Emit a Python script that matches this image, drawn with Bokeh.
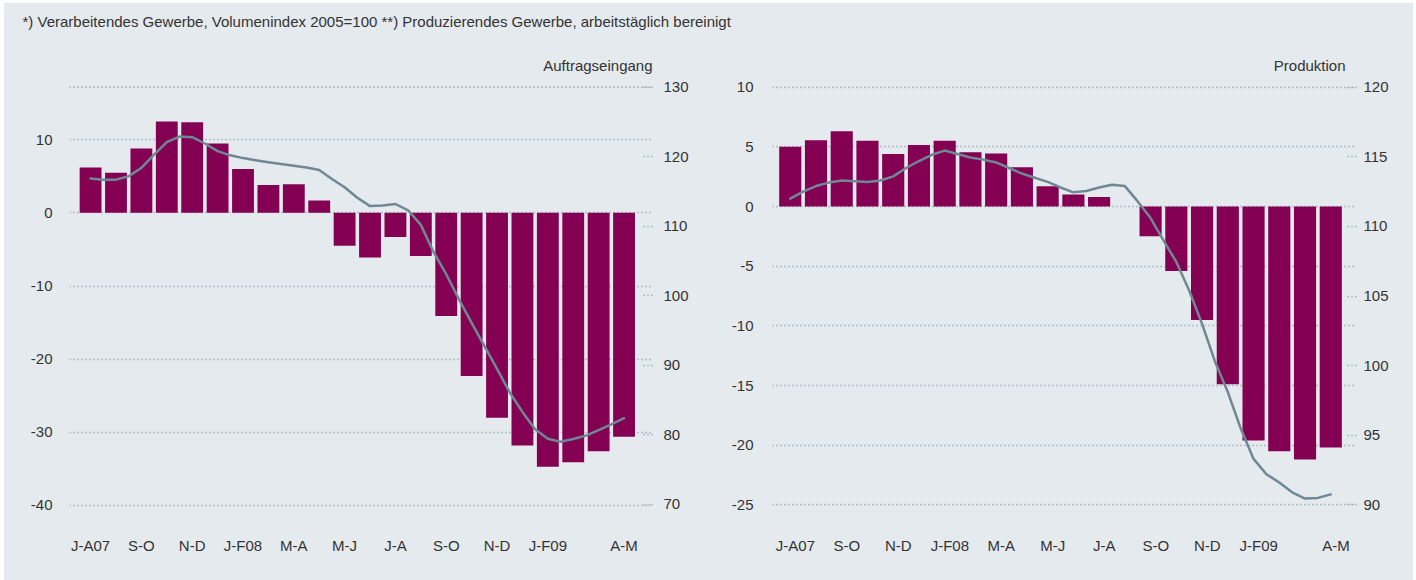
from bokeh.plotting import figure
from bokeh.models import Range1d, LinearAxis, FixedTicker, Span, Spacer
from bokeh.layouts import column, row
from bokeh.embed import file_html
from bokeh.resources import INLINE

# ---------------- data ----------------
months = list(range(22))
line_months = [i / 2 for i in range(43)]
tick_idx = [0, 2, 4, 6, 8, 10, 12, 14, 16, 18, 21]
tick_labels = ["J-A07", "S-O", "N-D", "J-F08", "M-A", "M-J", "J-A", "S-O", "N-D", "J-F09", "A-M"]

# Auftragseingang: change vs. previous year (bars, left axis), volume index (line, right axis)
orders_change = [6.2, 5.5, 8.8, 12.5, 12.4, 9.5, 6.0, 3.8, 3.9, 1.7,
                 -4.5, -6.1, -3.3, -5.9, -14.1, -22.3, -28.0, -31.8, -34.7, -34.1, -32.6, -30.6]
orders_index = [116.85, 116.7, 116.7, 117.2, 118.4, 120.3, 122.1, 122.9, 122.8, 121.9,
                120.8, 120.2, 119.8, 119.5, 119.2, 118.95, 118.7, 118.45, 118.1, 116.8,
                115.6, 114.1, 112.9, 113.0, 113.2, 112.3, 110.2, 106.3, 103.1, 99.5,
                96.1, 92.8, 89.5, 86.1, 83.3, 80.8, 79.45, 79.0, 79.4, 79.9,
                80.7, 81.5, 82.4]

# Produktion
prod_change = [5.0, 5.56, 6.3, 5.5, 4.4, 5.15, 5.5, 4.55, 4.45, 3.3, 1.7, 1.0, 0.8, 0.0,
               -2.5, -5.4, -9.5, -14.9, -19.6, -20.5, -21.2, -20.2]
prod_index = [112.0, 112.5, 112.9, 113.15, 113.3, 113.25, 113.2, 113.3, 113.6, 114.2,
              114.7, 115.15, 115.45, 115.2, 114.95, 114.8, 114.6, 114.2, 113.8, 113.5,
              113.2, 112.8, 112.45, 112.55, 112.8, 113.0, 112.9, 111.8, 110.6, 109.0,
              107.45, 105.4, 103.0, 100.3, 98.1, 95.5, 93.3, 92.2, 91.6, 90.9,
              90.45, 90.5, 90.75]

orders_left_ticks = [-40, -30, -20, -10, 0, 10]
orders_right_ticks = [70, 80, 90, 100, 110, 120, 130]
prod_left_ticks = [-25, -20, -15, -10, -5, 0, 5, 10]
prod_right_ticks = [90, 95, 100, 105, 110, 115, 120]

header_text = "*) Verarbeitendes Gewerbe, Volumenindex 2005=100 **) Produzierendes Gewerbe, arbeitstäglich bereinigt"

# ---------------- style ----------------
BG = "#e5eaee"
BAR = "#840053"
LINE = "#6f8894"
GRID = "#7a95a1"
TXT = "#333333"
FONT = "Liberation Sans"


def style_axis(ax, standoff):
    ax.axis_line_color = None
    ax.major_tick_line_color = None
    ax.minor_tick_line_color = None
    ax.major_label_text_font = FONT
    ax.major_label_text_font_size = "15px"
    ax.major_label_text_color = TXT
    ax.major_label_standoff = standoff


def make_chart(title, width, mb_left, mb_right, xr, yr, yr2, lticks, rticks, changes, index,
               right_standoff, left_standoff, tick_shift, title_offset, top_span=None):
    p = figure(width=width, height=530, x_range=Range1d(*xr), y_range=Range1d(*yr),
               toolbar_location=None, output_backend="svg",
               min_border_left=mb_left, min_border_right=mb_right,
               min_border_top=26, min_border_bottom=68)
    p.extra_y_ranges = {"right": Range1d(*yr2)}
    p.background_fill_color = None
    p.border_fill_color = None
    p.outline_line_color = None

    p.title.text = title
    p.title.align = "right"
    p.title.offset = title_offset
    p.title.text_font = FONT
    p.title.text_font_size = "15px"
    p.title.text_font_style = "normal"
    p.title.text_color = TXT
    p.title.standoff = 8

    lt = FixedTicker(ticks=lticks)
    p.yaxis.ticker = lt
    p.ygrid.ticker = lt
    p.yaxis.major_label_overrides = {t: str(t) for t in lticks}
    p.xgrid.visible = False
    p.ygrid.grid_line_color = GRID
    p.ygrid.grid_line_dash = "1 3"
    p.ygrid.grid_line_width = 1.7
    for ax in p.yaxis:
        style_axis(ax, left_standoff)

    xt = [t + tick_shift for t in tick_idx]
    p.xaxis.ticker = FixedTicker(ticks=xt)
    p.xaxis.major_label_overrides = {t: lab for t, lab in zip(xt, tick_labels)}
    for ax in p.xaxis:
        style_axis(ax, 18)

    rax = LinearAxis(y_range_name="right", ticker=FixedTicker(ticks=rticks))
    style_axis(rax, right_standoff)
    rax.major_label_overrides = {t: str(t) for t in rticks}
    rax.major_tick_in = 10
    rax.major_tick_out = 0
    rax.major_tick_line_color = GRID
    rax.major_tick_line_dash = "1 3"
    rax.major_tick_line_width = 1.7
    p.add_layout(rax, "right")

    if top_span is not None:
        p.add_layout(Span(location=top_span, dimension="width", y_range_name="right",
                          line_color=GRID, line_dash="1 3", line_width=1.7))

    p.vbar(x=months, top=changes, bottom=0, width=0.86, fill_color=BAR, line_color=None)
    p.line(x=line_months, y=index, y_range_name="right", line_color=LINE, line_width=2.5,
           line_join="round", line_cap="round")
    return p


p1 = make_chart("Auftragseingang", 708, 65, 60, (-0.83, 22.12), (-40.97, 18.51), (68.84, 131.39),
                orders_left_ticks, orders_right_ticks, orders_change, orders_index,
                right_standoff=11, left_standoff=11, tick_shift=0.0, title_offset=0,
                top_span=130)
p2 = make_chart("Produktion", 701, 60, 57, (-0.69, 22.0), (-25.64, 10.81), (89.45, 120.70),
                prod_left_ticks, prod_right_ticks, prod_change, prod_index,
                right_standoff=7, left_standoff=13, tick_shift=0.2, title_offset=11)

p0 = figure(width=1409, height=47, x_range=Range1d(0, 1), y_range=Range1d(0, 1),
            toolbar_location=None, output_backend="svg",
            min_border_left=0, min_border_right=0, min_border_top=28, min_border_bottom=0)
p0.axis.visible = False
p0.grid.visible = False
p0.outline_line_color = None
p0.background_fill_color = None
p0.border_fill_color = None
p0.title.text = header_text
p0.title.align = "left"
p0.title.offset = 18
p0.title.text_font = FONT
p0.title.text_font_size = "15px"
p0.title.text_font_style = "normal"
p0.title.text_color = TXT
p0.title.standoff = 4

inner = column(p0, row(p1, p2), styles={"background-color": BG})
layout = column(Spacer(height=3), row(Spacer(width=4), inner))
open("out.html", "w").write(file_html(layout, INLINE))
